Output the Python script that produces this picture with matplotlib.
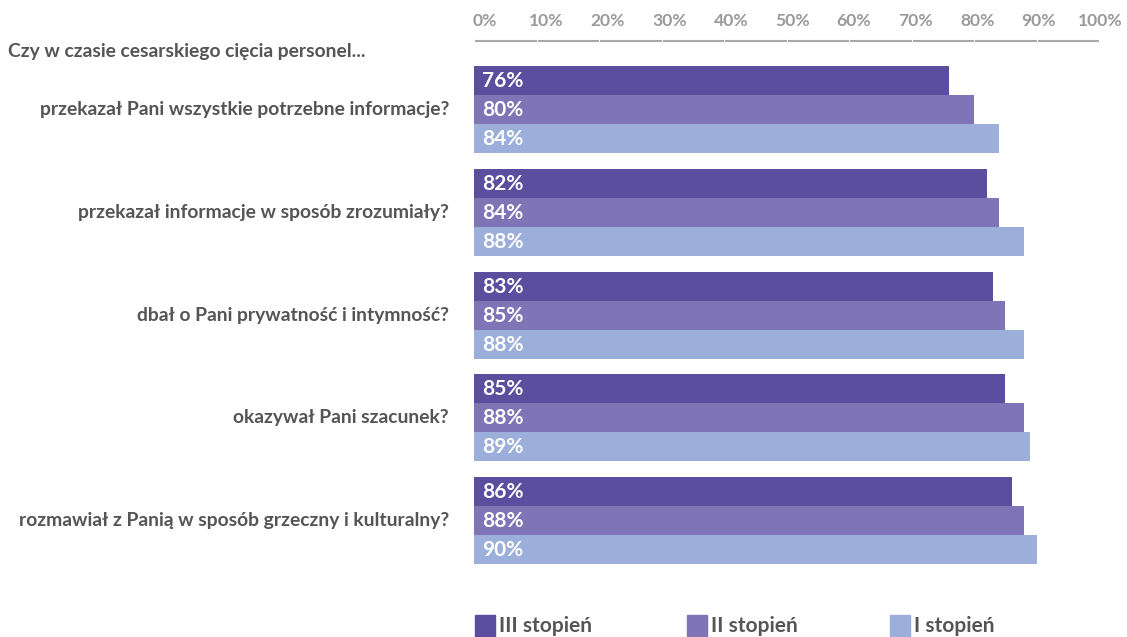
import matplotlib
matplotlib.use("Agg")
import matplotlib.pyplot as plt
from matplotlib.patches import Rectangle

plt.rcParams['font.family'] = ['Lato', 'DejaVu Sans']

title = "Czy w czasie cesarskiego cięcia personel..."
categories = [
    "przekazał Pani wszystkie potrzebne informacje?",
    "przekazał informacje w sposób zrozumiały?",
    "dbał o Pani prywatność i intymność?",
    "okazywał Pani szacunek?",
    "rozmawiał z Panią w sposób grzeczny i kulturalny?",
]
series_names = ["III stopień", "II stopień", "I stopień"]
iii_stopien = [76, 82, 83, 85, 86]
ii_stopien = [80, 84, 85, 88, 88]
i_stopien = [84, 88, 88, 89, 90]
tick_labels = ["0%", "10%", "20%", "30%", "40%", "50%", "60%", "70%", "80%", "90%", "100%"]

colors = ["#5B4E9F", "#7F74B6", "#9BAFDA"]
text_gray = "#555555"
tick_gray = "#9a9a9a"

W, H = 1127, 637
fig = plt.figure(figsize=(W / 100, H / 100), dpi=100)
x0, x1 = 474, 1099
ax = fig.add_axes([x0 / W, 0, (x1 - x0) / W, 1])
ax.set_xlim(0, 100)
ax.set_ylim(H, 0)
ax.axis("off")

bar_h = 29
group_step = 102.8
top = 66
series = [iii_stopien, ii_stopien, i_stopien]
for g, cat in enumerate(categories):
    for j, vals in enumerate(series):
        yc = top + group_step * g + bar_h * j + bar_h / 2
        ax.barh(yc, vals[g], height=bar_h, color=colors[j], edgecolor="none")
        ax.text(1.3, yc + 0.5, f"{vals[g]}%", color="white", fontsize=15,
                fontweight="bold", va="center", ha="left")
    gc = top + group_step * g + bar_h * 1.5
    fig.text(449 / W, 1 - gc / H, cat, ha="right", va="center", fontsize=13.9,
             fontweight="bold", color=text_gray)

fig.text(8 / W, 1 - 52 / H, title, ha="left", va="center", fontsize=13.9,
         fontweight="bold", color=text_gray)

# top axis line segments and labels
for i, lab in enumerate(tick_labels):
    ax.text(1.7 + 9.85 * i, 21, lab, ha="center", va="center", fontsize=12.6,
            fontweight="bold", color=tick_gray)
for i in range(10):
    ax.plot([i * 10 + 0.2, i * 10 + 9.8 + 0.2], [41, 41], color="#a8a8a8", lw=1.5,
            solid_capstyle="butt")

# legend
leg_x = [475, 687, 890]
for j, name in enumerate(series_names):
    fig.patches.append(Rectangle((leg_x[j] / W, 1 - 637 / H), 20 / W, 22 / H,
                                 transform=fig.transFigure, color=colors[j]))
    fig.text((leg_x[j] + 24) / W, 1 - 626 / H, name, ha="left", va="center",
             fontsize=15, fontweight="bold", color=text_gray)

fig.savefig("out.png", dpi=100)
